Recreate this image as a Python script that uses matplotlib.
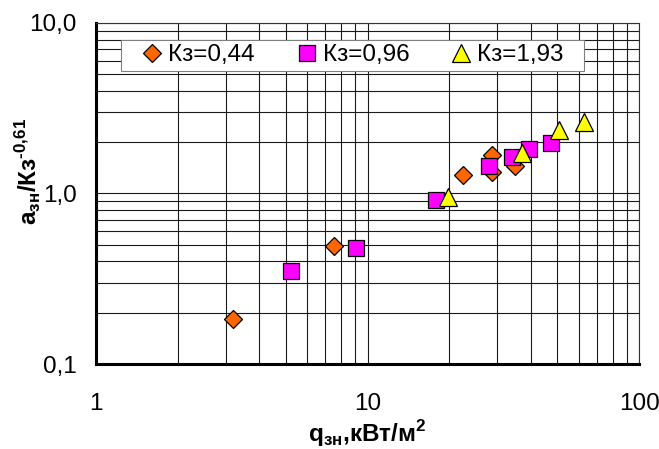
import matplotlib
matplotlib.use('Agg')
import matplotlib.pyplot as plt
from matplotlib.patches import Rectangle
from matplotlib.ticker import LogLocator, NullFormatter

plt.rcParams['font.family'] = ['Liberation Sans', 'DejaVu Sans']
plt.rcParams['mathtext.fontset'] = 'custom'
plt.rcParams['mathtext.rm'] = 'Liberation Sans'
plt.rcParams['mathtext.bf'] = 'Liberation Sans:bold'

# series data
q_044 = [3.19, 7.53, 22.5, 28.8, 28.8, 34.9]
a_044 = [0.183, 0.49, 1.28, 1.68, 1.33, 1.45]

q_096 = [5.21, 9.07, 17.9, 27.9, 34.0, 39.4, 47.3]
a_096 = [0.353, 0.477, 0.916, 1.44, 1.64, 1.82, 1.99]

q_193 = [19.85, 37.2, 50.7, 62.7]
a_193 = [0.958, 1.72, 2.36, 2.64]

x_ticks = [1, 10, 100]
x_labels = ['1', '10', '100']
y_ticks = [0.1, 1, 10]
y_labels = ['0,1', '1,0', '10,0']

FS = 17.5


def plot_and_save(img_path):
    fig = plt.figure(figsize=(6.59, 4.49), dpi=100)
    ax = fig.add_axes([0.1457, 0.1893, 0.824, 0.7595])

    ax.set_xscale('log')
    ax.set_yscale('log')
    ax.set_xlim(1, 100)
    ax.set_ylim(0.1, 10)

    ax.plot(q_044, a_044, linestyle='none', marker='D', markersize=9.2,
            markerfacecolor='#FF6600', markeredgecolor='#000000', markeredgewidth=0.9,
            label='Кз=0,44', zorder=3)
    ax.plot(q_096, a_096, linestyle='none', marker='s', markersize=11.8,
            markerfacecolor='#FF00FF', markeredgecolor='#000000', markeredgewidth=0.9,
            label='Кз=0,96', zorder=3)
    ax.plot(q_193, a_193, linestyle='none', marker='^', markersize=13,
            markerfacecolor='#FFFF00', markeredgecolor='#000000', markeredgewidth=0.9,
            label='Кз=1,93', zorder=3)

    # grid: major + minor
    ax.xaxis.set_minor_locator(LogLocator(base=10, subs=range(2, 10)))
    ax.yaxis.set_minor_locator(LogLocator(base=10, subs=range(2, 10)))
    ax.xaxis.set_minor_formatter(NullFormatter())
    ax.yaxis.set_minor_formatter(NullFormatter())
    ax.grid(True, which='both', color='#1a1a1a', linewidth=0.8)
    ax.set_axisbelow(True)

    ax.set_xticks(x_ticks, x_labels)
    ax.set_yticks(y_ticks, y_labels)
    ax.tick_params(which='both', length=0)
    ax.tick_params(axis='x', labelsize=FS, pad=21)
    ax.tick_params(axis='y', labelsize=FS, pad=14)

    for side in ['left', 'bottom']:
        ax.spines[side].set_linewidth(2.2)
    for side in ['top', 'right']:
        ax.spines[side].set_linewidth(0.8)
        ax.spines[side].set_color('#333333')

    ax.set_xlabel(r'$\mathbf{q_{зн}}$,кВт/м$^{\mathbf{2}}$', fontsize=FS, fontweight='bold')
    ax.set_ylabel('$\\mathbf{a_{зн}}$/Кз$^{\\mathbf{\u2010 0{,}61}}$', fontsize=FS, fontweight='bold')
    ax.xaxis.set_label_coords(0.5, -0.16)
    ax.yaxis.set_label_coords(-0.097, 0.565)

    # legend frame drawn separately so the padding can match
    box = Rectangle((0.046, 0.859), 0.853, 0.091, transform=ax.transAxes,
                    facecolor='white', edgecolor='#808080', linewidth=0.8, zorder=4)
    ax.add_patch(box)
    leg = ax.legend(loc='center left', bbox_to_anchor=(0.0853, 0.905), ncol=3,
                    fontsize=FS, frameon=False, handlelength=0.8, handletextpad=0.26,
                    columnspacing=1.74, borderpad=0.0, borderaxespad=0.0)
    leg.set_zorder(5)

    fig.savefig(img_path, dpi=100)


plot_and_save('out.png')
